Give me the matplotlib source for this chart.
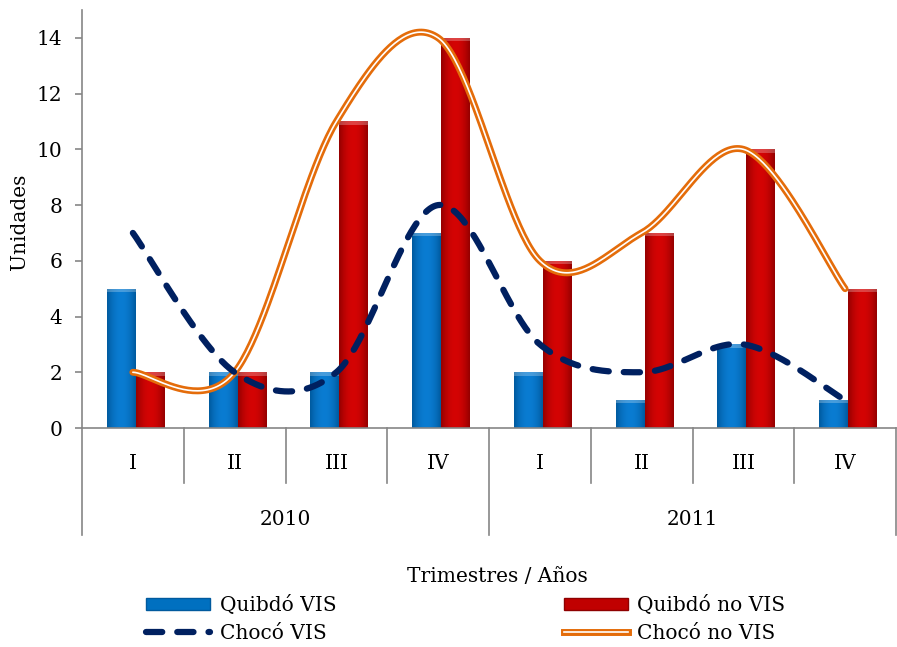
import numpy as np
import matplotlib.pyplot as plt
from matplotlib.colors import LinearSegmentedColormap
from matplotlib.lines import Line2D
from matplotlib.patches import Patch

quarters = ["I", "II", "III", "IV", "I", "II", "III", "IV"]
years = ["2010", "2011"]
quibdo_vis = [5, 2, 2, 7, 2, 1, 3, 1]
quibdo_no_vis = [2, 2, 11, 14, 6, 7, 10, 5]
choco_vis = [7, 2, 2, 8, 3, 2, 3, 1]
choco_no_vis = [2, 2, 11, 14, 6, 7, 10, 5]

GRAY = "#868686"
SERIF = "DejaVu Serif"
FS = 14.5


def smooth_curve(xs, ys, n=50):
    # Catmull-Rom style bezier smoothing, like Excel's "smoothed line"
    x = np.asarray(xs, float)
    y = np.asarray(ys, float)
    px = np.concatenate([[x[0]], x, [x[-1]]])
    py = np.concatenate([[y[0]], y, [y[-1]]])
    t = np.linspace(0, 1, n)
    out_x, out_y = [], []
    for i in range(1, len(px) - 2):
        p0 = np.array([px[i - 1], py[i - 1]])
        p1 = np.array([px[i], py[i]])
        p2 = np.array([px[i + 1], py[i + 1]])
        p3 = np.array([px[i + 2], py[i + 2]])
        c1 = p1 + (p2 - p0) / 6
        c2 = p2 - (p3 - p1) / 6
        b = ((1 - t) ** 3)[:, None] * p1 + (3 * (1 - t) ** 2 * t)[:, None] * c1 \
            + (3 * (1 - t) * t ** 2)[:, None] * c2 + (t ** 3)[:, None] * p2
        out_x.extend(b[:, 0])
        out_y.extend(b[:, 1])
    return np.array(out_x), np.array(out_y)


def gradient_bars(ax, bars, cmap):
    grad = np.abs(np.linspace(-1, 1, 64)) ** 2
    grad = np.vstack([grad, grad])
    for bar in bars:
        x0, y0 = bar.get_x(), bar.get_y()
        w, h = bar.get_width(), bar.get_height()
        im = ax.imshow(grad, cmap=cmap, extent=(x0, x0 + w, y0, y0 + h),
                       aspect="auto", zorder=2.1, interpolation="bicubic")
        im.set_clip_path(bar)
        # light bevel at the top
        ax.fill_between([x0, x0 + w], y0 + h - 0.12, y0 + h, color="white",
                        alpha=0.25, zorder=2.2, linewidth=0)


fig = plt.figure(figsize=(8.97, 6.47), dpi=100)
fig.patch.set_facecolor("white")
ax = fig.add_axes([82 / 897, 1 - 428 / 647, 814 / 897, 418 / 647])

x = np.arange(len(quarters))
bw = 0.285
blue_bars = ax.bar(x - bw / 2 + 0.03, quibdo_vis, bw, color="#0070C0", zorder=2)
red_bars = ax.bar(x + bw / 2 + 0.03, quibdo_no_vis, bw, color="#C00000", zorder=2)

blue_cmap = LinearSegmentedColormap.from_list("b", ["#0a7cd2", "#005a9e"])
red_cmap = LinearSegmentedColormap.from_list("r", ["#d40404", "#940000"])
gradient_bars(ax, blue_bars, blue_cmap)
gradient_bars(ax, red_bars, red_cmap)

sx, sy = smooth_curve(x, choco_vis)
ax.plot(sx, sy, color="#002060", lw=4.5, dashes=(2.6, 2.4),
        dash_capstyle="round", zorder=4)

sx, sy = smooth_curve(x, choco_no_vis)
ax.plot(sx, sy, color="#E46C0A", lw=5.0, solid_capstyle="round", zorder=3)
ax.plot(sx, sy, color="white", lw=1.2, solid_capstyle="round", zorder=3.1)

ax.set_xlim(-0.5, len(quarters) - 0.5)
ax.set_ylim(0, 15)
ax.set_yticks(np.arange(0, 15, 2))
ax.set_xticks([])
ax.tick_params(axis="y", direction="out", length=5, color=GRAY, width=1.2,
               labelsize=FS, pad=9)
for lab in ax.get_yticklabels():
    lab.set_fontfamily(SERIF)

for side in ("top", "right"):
    ax.spines[side].set_visible(False)
for side in ("left", "bottom"):
    ax.spines[side].set_color(GRAY)
    ax.spines[side].set_linewidth(1.2)

# multi-level category axis
trans = ax.get_xaxis_transform()
for b in np.arange(-0.5, len(quarters), 1.0):
    bottom = -0.256 if b in (-0.5, 3.5, 7.5) else -0.131
    ax.plot([b, b], [0, bottom], transform=trans, color=GRAY, lw=1.2,
            clip_on=False)
for xi, q in zip(x, quarters):
    ax.text(xi, -0.084, q, transform=trans, ha="center", va="center",
            fontsize=FS, family=SERIF)
for i, yr in enumerate(years):
    ax.text(1.5 + 4 * i, -0.218, yr, transform=trans, ha="center",
            va="center", fontsize=FS, family=SERIF)

fig.text(497 / 897, 1 - 577 / 647, "Trimestres / Años", ha="center",
         va="center", fontsize=FS, family=SERIF)
fig.text(20 / 897, 1 - 222 / 647, "Unidades", rotation=90, ha="center",
         va="center", fontsize=FS, family=SERIF)

handles = [
    Patch(facecolor="#0070C0", edgecolor="#005a9e"),
    Line2D([], [], color="#002060", lw=4.5, dashes=(2.6, 2.4),
           dash_capstyle="round"),
    Patch(facecolor="#C00000", edgecolor="#8e0000"),
    (Line2D([], [], color="#E46C0A", lw=5.0),
     Line2D([], [], color="white", lw=1.2)),
]
labels = ["Quibdó VIS", "Chocó VIS", "Quibdó no VIS", "Chocó no VIS"]
fig.legend(handles, labels, loc="upper left",
           bbox_to_anchor=(146 / 897, 1 - 595 / 647), ncol=2, frameon=False,
           prop={"family": SERIF, "size": FS}, handlelength=3.2,
           handleheight=0.6, handletextpad=0.45, columnspacing=11.3,
           labelspacing=0.45, borderpad=0, borderaxespad=0)

fig.savefig("out.png", dpi=100)
